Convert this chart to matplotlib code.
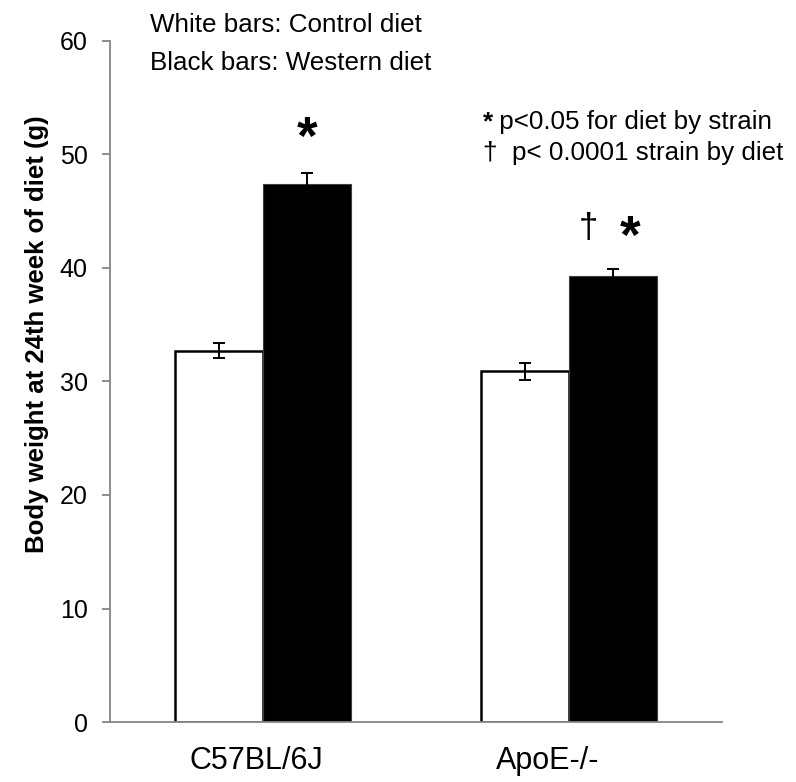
import matplotlib
matplotlib.use('Agg')
import matplotlib.pyplot as plt
import numpy as np

# data
strains = ['C57BL/6J', 'ApoE-/-']
control = [32.7, 30.9]
control_err = [0.65, 0.75]
western = [47.4, 39.3]
western_err = [1.0, 0.65]

plt.rcParams['font.family'] = ['Liberation Sans', 'DejaVu Sans']

fig = plt.figure(figsize=(7.96, 7.82), dpi=100)
ax = fig.add_axes([0.138, 0.0767, 0.769, 0.871])

x = np.arange(len(strains))
w = 0.287
gray = '#868686'

ax.bar(x - w / 2, control, w, color='white', edgecolor='black', linewidth=1.8, zorder=2)
ax.bar(x + w / 2, western, w, color='black', edgecolor='#404040', linewidth=0.8, zorder=2)
ax.errorbar(x - w / 2, control, yerr=control_err, fmt='none', ecolor='black',
            elinewidth=1.4, capsize=4.5, capthick=1.4, zorder=3)
ax.errorbar(x + w / 2, western, yerr=western_err, fmt='none', ecolor='black',
            elinewidth=1.4, capsize=4.5, capthick=1.4, zorder=3)

ax.set_xlim(-0.5, 1.5)
ax.set_ylim(0, 60)
ax.set_yticks(range(0, 61, 10))

# category labels (sit slightly left of the bar pairs in the original)
ax.set_xticks([-0.02, 0.932])
ax.set_xticklabels(strains, fontsize=22)
ax.tick_params(axis='x', length=0, pad=17)
ax.tick_params(axis='y', direction='out', length=6, color=gray, width=1.3,
               labelsize=18, pad=10)

for s in ['top', 'right']:
    ax.spines[s].set_visible(False)
for s in ['left', 'bottom']:
    ax.spines[s].set_color(gray)
    ax.spines[s].set_linewidth(1.3)

ax.set_ylabel('Body weight at 24th week of diet (g)', fontsize=18.5, fontweight='bold')
ax.yaxis.set_label_coords(-0.099, 0.57)

# annotations
fs = 18.7
fig.text(0.188, 0.959, 'White bars: Control diet', fontsize=fs, va='baseline')
fig.text(0.188, 0.9105, 'Black bars: Western diet', fontsize=fs, va='baseline')
fig.text(0.386, 0.821, '*', fontsize=38, fontweight='bold', ha='center', va='center')
fig.text(0.607, 0.835, '*', fontsize=fs, fontweight='bold', va='baseline')
fig.text(0.618, 0.835, ' p<0.05 for diet by strain', fontsize=fs, va='baseline')
fig.text(0.607, 0.795, '\u2020  p< 0.0001 strain by diet', fontsize=fs, va='baseline')
fig.text(0.739, 0.708, '\u2020', fontsize=25, ha='center', va='center')
fig.text(0.7915, 0.694, '*', fontsize=38, fontweight='bold', ha='center', va='center')

fig.savefig('out.png', dpi=100)
